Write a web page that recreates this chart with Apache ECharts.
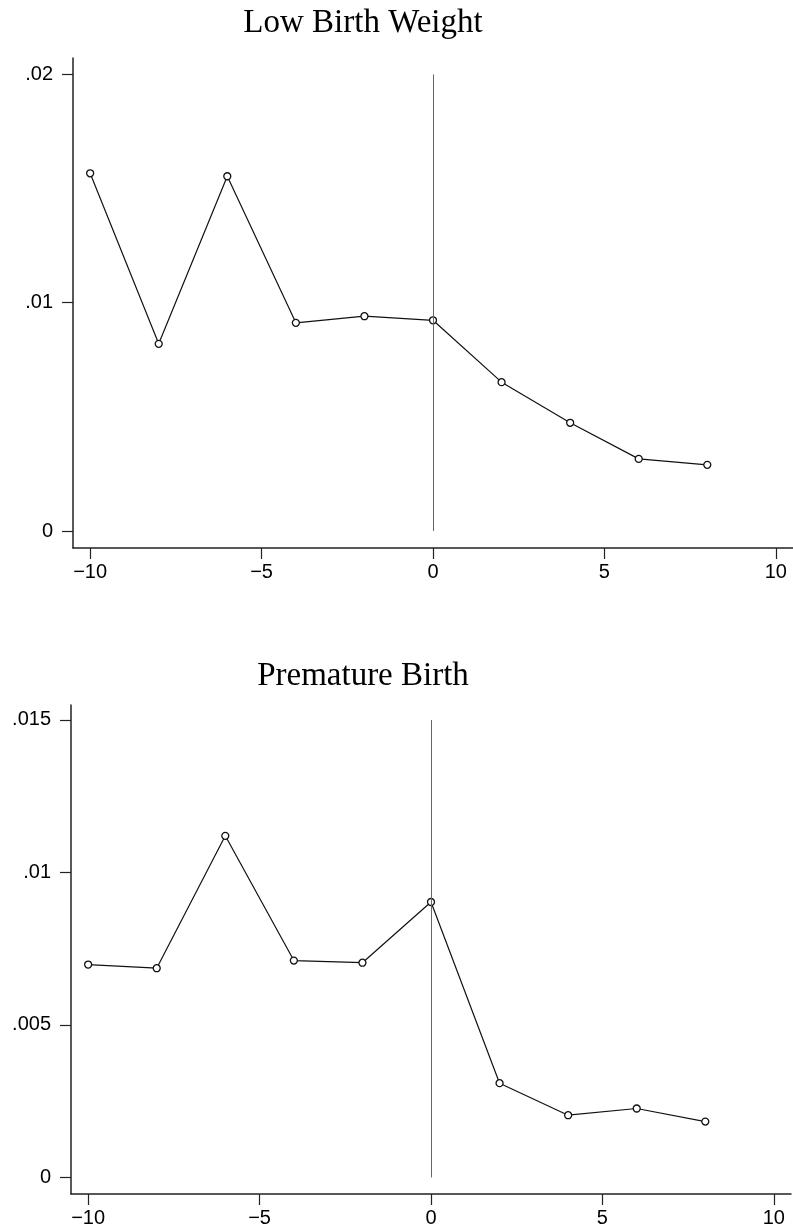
<!DOCTYPE html>
<html>
<head>
<meta charset="utf-8">
<script src="https://cdn.jsdelivr.net/npm/echarts@6/dist/echarts.min.js"></script>
<style>
  html, body { margin: 0; padding: 0; background: #fff; }
  #main { width: 793px; height: 1228px; }
</style>
</head>
<body>
<div id="main"></div>
<script>
// event time (years relative to event)
const years = [-10, -8, -6, -4, -2, 0, 2, 4, 6, 8];

// Low Birth Weight
const lowBirthWeight = [0.01567, 0.0082, 0.01554, 0.00912, 0.00941, 0.00923, 0.00652, 0.00474, 0.00316, 0.0029];
// Premature Birth
const prematureBirth = [0.00698, 0.00686, 0.0112, 0.00711, 0.00704, 0.00903, 0.00309, 0.00204, 0.00226, 0.00183];

const xTicks = [-10, -5, 0, 5, 10];
const yTicksTop = [0, 0.01, 0.02];
const yTicksBottom = [0, 0.005, 0.01, 0.015];

const titles = ['Low Birth Weight', 'Premature Birth'];

const toPairs = vals => years.map((x, i) => [x, vals[i]]);

const fmtX = v => String(v).replace('-', '\u2212');
const fmtY = v => v === 0 ? '0' : String(+v.toFixed(4)).replace(/^0\./, '.');

const makeX = (gridIndex) => ({
  type: 'value',
  gridIndex: gridIndex,
  min: -10.5,
  max: 10.5,
  splitLine: { show: false },
  axisLine: { onZero: false, lineStyle: { color: '#222', width: 1.5 } },
  axisTick: { customValues: xTicks, length: 11, lineStyle: { color: '#222', width: 1.2 } },
  axisLabel: {
    customValues: xTicks,
    formatter: fmtX,
    margin: 14,
    color: '#000',
    fontSize: 20,
    fontFamily: 'Liberation Sans, Arial, sans-serif'
  }
});

const makeY = (gridIndex, min, max, ticks) => ({
  type: 'value',
  gridIndex: gridIndex,
  min: min,
  max: max,
  splitLine: { show: false },
  axisLine: { onZero: false, lineStyle: { color: '#222', width: 1.5 } },
  axisTick: { customValues: ticks, length: 11, lineStyle: { color: '#222', width: 1.2 } },
  axisLabel: {
    customValues: ticks,
    formatter: fmtY,
    margin: 20,
    color: '#000',
    fontSize: 20,
    fontFamily: 'Liberation Sans, Arial, sans-serif'
  }
});

const makeSeries = (idx, vals, refTop) => ({
  type: 'line',
  xAxisIndex: idx,
  yAxisIndex: idx,
  data: toPairs(vals),
  symbol: 'circle',
  symbolSize: 7,
  lineStyle: { color: '#111', width: 1.2 },
  itemStyle: { color: '#fff', borderColor: '#111', borderWidth: 1.3 },
  markLine: {
    silent: true,
    symbol: ['none', 'none'],
    label: { show: false },
    lineStyle: { color: '#666', width: 1, type: 'solid' },
    data: [[{ coord: [0, refTop] }, { coord: [0, 0] }]]
  },
  z: 3
});

const myChart = echarts.init(document.getElementById('main'));

const titleStyle = {
  color: '#000',
  fontSize: 33,
  fontWeight: 'normal',
  fontFamily: 'Liberation Serif, Times New Roman, serif'
};

const option = {
  animation: false,
  backgroundColor: '#fff',
  title: [
    { text: titles[0], left: 363, top: 7, textAlign: 'center', padding: 0, textStyle: titleStyle },
    { text: titles[1], left: 363, top: 660, textAlign: 'center', padding: 0, textStyle: titleStyle }
  ],
  grid: [
    { left: 73, top: 58, width: 720, height: 490 },
    { left: 71, top: 705, width: 720, height: 489 }
  ],
  xAxis: [makeX(0), makeX(1)],
  yAxis: [
    makeY(0, -0.000744, 0.02072, yTicksTop),
    makeY(1, -0.000544, 0.01549, yTicksBottom)
  ],
  series: [
    makeSeries(0, lowBirthWeight, 0.02),
    makeSeries(1, prematureBirth, 0.015)
  ]
};

myChart.setOption(option);
</script>
</body>
</html>
